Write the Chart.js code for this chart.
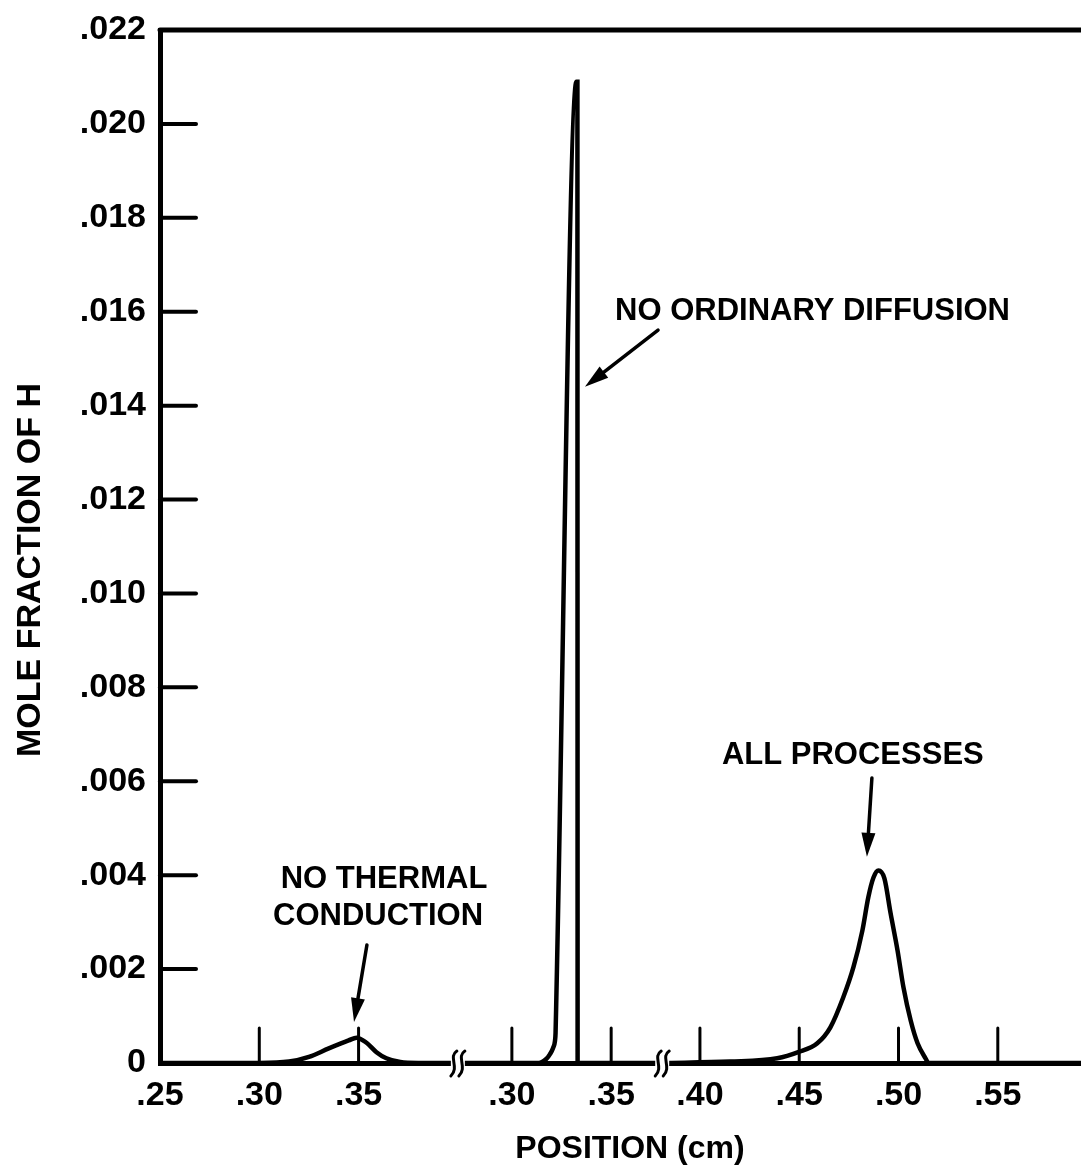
<!DOCTYPE html>
<html>
<head>
<meta charset="utf-8">
<script src="https://cdn.jsdelivr.net/npm/chart.js@4.4.0/dist/chart.umd.min.js"></script>
<style>
  html, body { margin: 0; padding: 0; background: #fff; }
</style>
</head>
<body>
<canvas id="chart" width="1081" height="1169"></canvas>
<script>
// ## data ##
// the position axis is broken in three pieces, each piece is shifted along the axis
const segShift = [0, 0.1272, 0.1219];

// no thermal conduction (first piece)
const thermalPos = [0.25, 0.30, 0.315, 0.325, 0.335, 0.345, 0.349, 0.354, 0.359, 0.364, 0.371, 0.38, 0.40];
const thermalH = [0, 0, 0.00003, 0.00013, 0.00031, 0.00048, 0.00054, 0.00043, 0.00023, 0.0001, 0.00002, 0, 0];

// no ordinary diffusion (second piece)
const diffusionPos = [0.2725, 0.31, 0.3135, 0.3173, 0.3192, 0.32075, 0.3217, 0.322, 0.3224, 0.3325, 0.333, 0.3331, 0.3755];
const diffusionH = [0, 0, 0, 0.000085, 0.00019, 0.00032, 0.00047, 0.00064, 0.0014, 0.0209, 0.0209, 0, 0];

// all processes (third piece)
const processPos = [0.381, 0.4152, 0.4389, 0.4495, 0.4591, 0.4657, 0.4722, 0.4773, 0.4818, 0.4848, 0.4874,
  0.4899, 0.4929, 0.496, 0.4995, 0.5025, 0.5061, 0.5096, 0.5136, 0.5152, 0.593];
const processH = [0, 0.00003, 0.0001, 0.00023, 0.00042, 0.00076, 0.0014, 0.00204, 0.00282, 0.00353, 0.00395,
  0.0041, 0.00393, 0.00319, 0.0024, 0.00161, 0.00091, 0.00042, 0.0001, 0, 0];

// x ticks: position, piece, label
const xTickPos = [0.25, 0.30, 0.35, 0.30, 0.35, 0.40, 0.45, 0.50, 0.55];
const xTickSeg = [0, 0, 0, 1, 1, 2, 2, 2, 2];
const xTickText = [".25", ".30", ".35", ".30", ".35", ".40", ".45", ".50", ".55"];

// y ticks
const yTicks = [0, 0.002, 0.004, 0.006, 0.008, 0.010, 0.012, 0.014, 0.016, 0.018, 0.020, 0.022];
const yTickText = ["0", ".002", ".004", ".006", ".008", ".010", ".012", ".014", ".016", ".018", ".020", ".022"];

// where the axis is broken (position, piece)
const breakPos = [0.40, 0.381];
const breakSeg = [0, 2];

const toAxis = (pos, seg) => pos + segShift[seg];
const xTickVals = xTickPos.map((p, i) => toAxis(p, xTickSeg[i]));

function curve(pos, h, seg) {
  return pos.map((p, i) => ({ x: toAxis(p, seg), y: h[i] }));
}

const FONT = '"Liberation Sans", Arial, sans-serif';

// annotations in axis units (x on the shifted axis, y mole fraction)
const notes = [
  { text: "NO ORDINARY DIFFUSION", x: 0.5786, y: 0.01582 },
  { text: "ALL PROCESSES", x: 0.5989, y: 0.00637 },
  { text: "NO THERMAL", x: 0.3628, y: 0.003727 },
  { text: "CONDUCTION", x: 0.3598, y: 0.002939 },
];
const arrows = [
  { x0: 0.5008, y0: 0.01561, x1: 0.4640, y1: 0.0144 },
  { x0: 0.6085, y0: 0.00607, x1: 0.6060, y1: 0.00439 },
  { x0: 0.3542, y0: 0.002513, x1: 0.3477, y1: 0.000873 },
];

const decor = {
  id: "decor",
  afterDraw(chart) {
    const { ctx, chartArea: a, scales: { x, y } } = chart;
    ctx.save();
    ctx.strokeStyle = "#000";
    ctx.fillStyle = "#000";
    ctx.lineCap = "round";

    const line = (x0, y0, x1, y1) => {
      ctx.beginPath();
      ctx.moveTo(x0, y0);
      ctx.lineTo(x1, y1);
      ctx.stroke();
    };

    // top frame
    ctx.lineWidth = 5;
    line(a.left, a.top, a.right + 5, a.top);

    // inward ticks
    ctx.lineWidth = 4;
    yTicks.forEach((v) => {
      if (v <= 0 || v >= 0.022) return;
      const py = y.getPixelForValue(v);
      line(a.left, py, a.left + 36, py);
    });
    ctx.lineWidth = 3;
    xTickVals.forEach((v, i) => {
      if (i === 0) return;
      const px = x.getPixelForValue(v);
      line(px, a.bottom, px, a.bottom - 35);
    });

    // axis breaks
    breakPos.forEach((p, i) => {
      const px = x.getPixelForValue(toAxis(p, breakSeg[i]));
      const py = a.bottom;
      ctx.fillStyle = "#fff";
      ctx.fillRect(px - 7, py - 4, 14, 8);
      ctx.lineWidth = 3;
      [-4, 4].forEach((d) => {
        const cx = px + d;
        ctx.beginPath();
        ctx.moveTo(cx + 3, py - 12);
        ctx.bezierCurveTo(cx - 6, py - 6, cx + 6, py + 4, cx - 3, py + 13);
        ctx.stroke();
      });
    });
    ctx.fillStyle = "#000";

    // annotation text
    ctx.font = "bold 31px " + FONT;
    ctx.textAlign = "center";
    ctx.textBaseline = "alphabetic";
    notes.forEach((n) => {
      ctx.fillText(n.text, x.getPixelForValue(n.x), y.getPixelForValue(n.y));
    });

    // arrows
    arrows.forEach((r) => {
      const x0 = x.getPixelForValue(r.x0), y0 = y.getPixelForValue(r.y0);
      const x1 = x.getPixelForValue(r.x1), y1 = y.getPixelForValue(r.y1);
      const ang = Math.atan2(y1 - y0, x1 - x0);
      const len = 24, half = 7;
      const bx = x1 - len * Math.cos(ang), by = y1 - len * Math.sin(ang);
      ctx.lineWidth = 3.5;
      line(x0, y0, bx, by);
      ctx.beginPath();
      ctx.moveTo(x1, y1);
      ctx.lineTo(bx + half * Math.sin(ang), by - half * Math.cos(ang));
      ctx.lineTo(bx - half * Math.sin(ang), by + half * Math.cos(ang));
      ctx.closePath();
      ctx.fill();
    });

    // axis titles
    ctx.font = "bold 32px " + FONT;
    ctx.fillText("POSITION (cm)", 630, 1158);
    ctx.save();
    ctx.translate(40, 570);
    ctx.rotate(-Math.PI / 2);
    ctx.font = "bold 34px " + FONT;
    ctx.fillText("MOLE FRACTION OF H", 0, 0);
    ctx.restore();

    ctx.restore();
  },
};

const lineStyle = {
  borderColor: "#000",
  borderWidth: 4.5,
  pointRadius: 0,
  fill: false,
  cubicInterpolationMode: "monotone",
};

new Chart(document.getElementById("chart"), {
  type: "scatter",
  data: {
    datasets: [
      { ...lineStyle, showLine: true, data: curve(thermalPos, thermalH, 0) },
      { ...lineStyle, showLine: true, data: curve(diffusionPos, diffusionH, 1) },
      { ...lineStyle, showLine: true, data: curve(processPos, processH, 2) },
    ],
  },
  options: {
    responsive: false,
    animation: false,
    layout: { padding: { top: 30, right: 0, left: 0, bottom: 0 } },
    plugins: { legend: { display: false }, tooltip: { enabled: false } },
    scales: {
      x: {
        type: "linear",
        min: 0.25,
        max: 0.7138,
        afterBuildTicks: (s) => {
          s.ticks = xTickVals.map((v) => ({ value: v }));
        },
        afterFit: (s) => {
          s.height = 106;
        },
        ticks: {
          callback: (v, i) => xTickText[i],
          font: { family: FONT, size: 34, weight: "bold" },
          color: "#000",
          padding: 12,
          maxRotation: 0,
          autoSkip: false,
        },
        grid: { display: false, drawTicks: false },
        border: { display: true, width: 5, color: "#000" },
      },
      y: {
        min: 0,
        max: 0.022,
        afterBuildTicks: (s) => {
          s.ticks = yTicks.map((v) => ({ value: v }));
        },
        afterFit: (s) => {
          s.width = 160;
          s.paddingTop = 0;
          s.paddingBottom = 0;
        },
        ticks: {
          callback: (v, i) => yTickText[i],
          font: { family: FONT, size: 34, weight: "bold" },
          color: "#000",
          padding: 14,
        },
        grid: { display: false, drawTicks: false },
        border: { display: true, width: 5, color: "#000" },
      },
    },
  },
  plugins: [decor],
});
</script>
</body>
</html>
